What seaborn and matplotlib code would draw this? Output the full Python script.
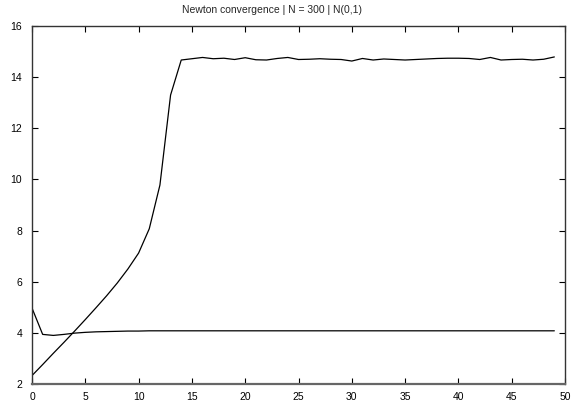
import numpy as np
import pandas as pd
import matplotlib
matplotlib.use("Agg")
import matplotlib.pyplot as plt
import seaborn as sns

title = "Newton convergence | N = 300 | N(0,1)"
iterations = list(range(50))
series_a = [2.33, 2.76, 3.20, 3.63, 4.07, 4.52, 4.98, 5.45, 5.95, 6.50,
            7.12, 8.07, 9.78, 13.30, 14.67, 14.72, 14.77, 14.72, 14.74, 14.69,
            14.76, 14.68, 14.67, 14.73, 14.77, 14.69, 14.70, 14.72, 14.70, 14.69,
            14.63, 14.73, 14.67, 14.71, 14.69, 14.67, 14.69, 14.71, 14.73, 14.74,
            14.74, 14.73, 14.69, 14.77, 14.67, 14.69, 14.70, 14.67, 14.70, 14.79]
series_b = [4.97, 3.94, 3.90, 3.94, 3.99, 4.02, 4.04, 4.05, 4.06, 4.07,
            4.07, 4.08] + [4.08] * 38
x_ticks = list(range(0, 51, 5))
y_ticks = list(range(2, 17, 2))

sns.set_style("ticks")
plt.rcParams['font.family'] = ['Liberation Sans', 'DejaVu Sans']

fig = plt.figure(figsize=(5.81, 4.07), dpi=100)
ax = fig.add_axes([32/581, 1 - 384/407, (565-32)/581, (384-26)/407])

df = pd.DataFrame({"x": iterations, "a": series_a, "b": series_b})
sns.lineplot(data=df, x="x", y="a", color="black", linewidth=0.9, ax=ax)
sns.lineplot(data=df, x="x", y="b", color="black", linewidth=0.9, ax=ax)

ax.set_xlim(0, 50)
ax.set_ylim(2, 16)
ax.set_xticks(x_ticks)
ax.set_yticks(y_ticks)
ax.set_xlabel("")
ax.set_ylabel("")
fig.text(272/581, 1 - 10/407, title, fontsize=7.5, ha="center", va="center")
ax.tick_params(direction="in", length=4, width=0.8, top=True, right=True,
               labelsize=7.5, colors="black")
ax.tick_params(axis="x", pad=6)
ax.tick_params(axis="y", pad=7)
for s in ax.spines.values():
    s.set_visible(True)
    s.set_linewidth(1.0)
    s.set_color("#333333")
ax.spines["bottom"].set_color("#666666")
ax.spines["bottom"].set_linewidth(1.6)

fig.savefig("out.png", dpi=100)
